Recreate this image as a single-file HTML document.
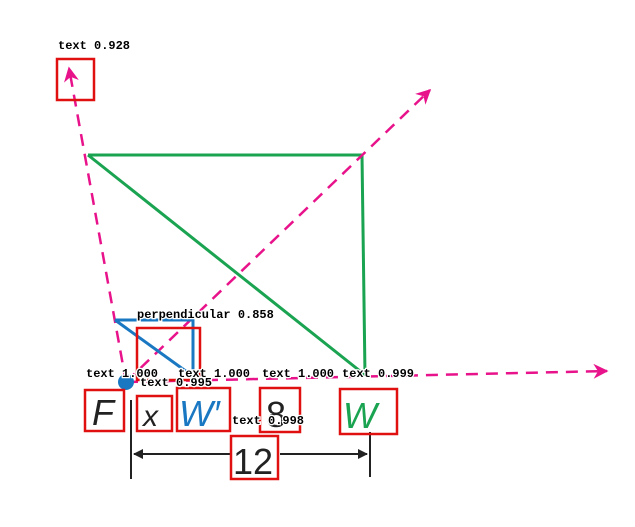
<!DOCTYPE html>
<html><head><meta charset="utf-8"><style>
body{margin:0;background:#fff;width:635px;height:522px;overflow:hidden}
.lbl{font-family:"Liberation Mono",monospace;font-size:12px;fill:#000;stroke:#fff;stroke-width:2.5px;paint-order:stroke;font-weight:bold}
.box{fill:none;stroke:#e01010;stroke-width:2.5}
</style></head><body>
<svg width="635" height="522" viewBox="0 0 635 522">
<defs>
<marker id="ah" viewBox="0 0 10 10" refX="9" refY="5" markerWidth="6" markerHeight="6" orient="auto"><path d="M0,0 L10,5 L0,10 L3,5 z" fill="#e8138b"/></marker>
<marker id="bk" viewBox="0 0 10 10" refX="9" refY="5" markerWidth="7" markerHeight="5" orient="auto-start-reverse"><path d="M0,0 L10,5 L0,10 z" fill="#222"/></marker>
</defs>
<g stroke="#1aa350" stroke-width="3" fill="none">
<line x1="88" y1="155" x2="362" y2="155"/><line x1="362" y1="155" x2="365" y2="375"/><line x1="88" y1="155" x2="365" y2="375"/>
</g>
<g stroke="#e8138b" stroke-width="2.5" stroke-dasharray="12,8" fill="none">
<line x1="126" y1="382" x2="69" y2="68" marker-end="url(#ah)"/>
<line x1="126" y1="382" x2="430" y2="90" marker-end="url(#ah)"/>
<line x1="126" y1="382" x2="607" y2="371" marker-end="url(#ah)"/>
</g>
<g stroke="#1a78c2" stroke-width="3" fill="none">
<polyline points="115,320 193,320 193,373"/><line x1="115" y1="320" x2="187" y2="372"/>
</g>
<circle cx="126" cy="382" r="8" fill="#1a78c2"/>
<g stroke="#222" stroke-width="2">
<line x1="131" y1="400" x2="131" y2="479"/><line x1="370" y1="432" x2="370" y2="477"/>
<line x1="134" y1="454" x2="367" y2="454" marker-start="url(#bk)" marker-end="url(#bk)"/>
</g>
<rect x="230" y="438" width="50" height="40" fill="#fff"/>
<g font-family="Liberation Sans,sans-serif" font-style="italic">
<text x="92" y="425" font-size="36" fill="#222">F</text>
<text x="143" y="426" font-size="30" fill="#222">x</text>
<text x="179" y="426" font-size="36" fill="#1a78c2">W′</text>
<text x="343" y="428" font-size="36" fill="#1aa350">W</text>
</g>
<text x="266" y="427" font-family="Liberation Sans,sans-serif" font-size="36" fill="#222">8</text>
<text x="233" y="474" font-family="Liberation Sans,sans-serif" font-size="36" fill="#222">12</text>
<g>
<rect class="box" x="57" y="59" width="37" height="41"/>
<rect class="box" x="137" y="328" width="63" height="52"/>
<rect class="box" x="85" y="390" width="39" height="41"/>
<rect class="box" x="137" y="396" width="35" height="35"/>
<rect class="box" x="177" y="388" width="53" height="43"/>
<rect class="box" x="260" y="388" width="40" height="44"/>
<rect class="box" x="340" y="389" width="57" height="45"/>
<rect class="box" x="231" y="436" width="47" height="43"/>
</g>
<g>
<text class="lbl" x="58" y="49">text 0.928</text>
<text class="lbl" x="137" y="318">perpendicular 0.858</text>
<text class="lbl" x="86" y="377">text 1.000</text>
<text class="lbl" x="140" y="386">text 0.995</text>
<text class="lbl" x="178" y="377">text 1.000</text>
<text class="lbl" x="262" y="377">text 1.000</text>
<text class="lbl" x="342" y="377">text 0.999</text>
<text class="lbl" x="232" y="424">text 0.998</text>
</g>
</svg>
</body></html>
